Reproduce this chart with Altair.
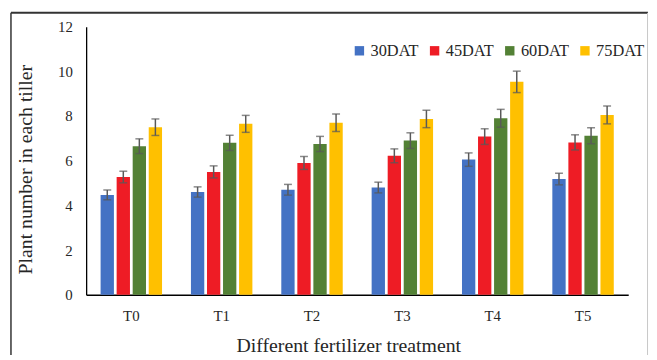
import altair as alt
import pandas as pd

treatments = ["T0", "T1", "T2", "T3", "T4", "T5"]
series = ["30DAT", "45DAT", "60DAT", "75DAT"]
colors = ["#4472C4", "#EE1C25", "#538135", "#FFC000"]

v30 = [4.47, 4.60, 4.70, 4.80, 6.05, 5.18]
v45 = [5.27, 5.50, 5.90, 6.22, 7.08, 6.82]
v60 = [6.65, 6.80, 6.75, 6.90, 7.90, 7.12]
v75 = [7.50, 7.65, 7.70, 7.87, 9.53, 8.05]

e30 = [0.22, 0.23, 0.24, 0.24, 0.30, 0.26]
e45 = [0.26, 0.27, 0.29, 0.31, 0.35, 0.34]
e60 = [0.33, 0.34, 0.34, 0.35, 0.40, 0.36]
e75 = [0.37, 0.38, 0.39, 0.39, 0.48, 0.40]

rows = []
for s, vals, errs in zip(series, [v30, v45, v60, v75], [e30, e45, e60, e75]):
    for t, v, e in zip(treatments, vals, errs):
        rows.append({"treatment": t, "series": s, "value": v, "lo": v - e, "hi": v + e})
df = pd.DataFrame(rows)

FONT = "Liberation Serif"
TXT = "#262626"

x_enc = alt.X(
    "treatment:N",
    sort=treatments,
    scale=alt.Scale(paddingInner=0.32, paddingOuter=0.16),
    axis=alt.Axis(
        title="Different fertilizer treatment",
        labelAngle=0,
        ticks=False,
        domainColor="#000000",
        domainWidth=1.5,
        labelFont=FONT,
        labelFontSize=15,
        labelPadding=14,
        titleFont=FONT,
        titleFontSize=20,
        titleFontWeight="normal",
        titleX=265,
        titleY=57,
        titleBaseline="alphabetic",
    ),
)
xo = alt.XOffset("series:N", sort=series, scale=alt.Scale(paddingInner=0.17, paddingOuter=0))
y_scale = alt.Scale(domain=[0, 12])

bars = alt.Chart(df).mark_bar().encode(
    x=x_enc,
    xOffset=xo,
    y=alt.Y(
        "value:Q",
        scale=y_scale,
        axis=alt.Axis(
            values=[0, 2, 4, 6, 8, 10, 12],
            title="Plant number in each tiller",
            grid=False,
            ticks=False,
            domainColor="#000000",
            domainWidth=1.3,
            labelFont=FONT,
            labelFontSize=15,
            labelPadding=14,
            titleFont=FONT,
            titleFontSize=20,
            titleFontWeight="normal",
            titlePadding=22,
            titleY=144,
        ),
    ),
    color=alt.Color(
        "series:N",
        sort=series,
        scale=alt.Scale(domain=series, range=colors),
        legend=alt.Legend(
            title=None,
            orient="none",
            legendX=268,
            legendY=16,
            direction="horizontal",
            symbolType="square",
            symbolSize=90,
            symbolStrokeWidth=0,
            labelFontSize=16.5,
            labelOffset=3,
            columnPadding=7,
            labelFont=FONT,
            labelColor=TXT,
        ),
    ),
)

err = alt.Chart(df).mark_rule(color="#595959", strokeWidth=1.5).encode(
    x=alt.X("treatment:N", sort=treatments), xOffset=xo, y="lo:Q", y2="hi:Q"
)
cap_lo = alt.Chart(df).mark_tick(color="#595959", size=8, thickness=1.5, orient="horizontal").encode(
    x=alt.X("treatment:N", sort=treatments), xOffset=xo, y="lo:Q"
)
cap_hi = alt.Chart(df).mark_tick(color="#595959", size=8, thickness=1.5, orient="horizontal").encode(
    x=alt.X("treatment:N", sort=treatments), xOffset=xo, y="hi:Q"
)

# decorative frame around the figure
frame_df = pd.DataFrame({"k": [0]})
top_line = alt.Chart(frame_df).mark_rule(color="#333333", strokeWidth=2).encode(
    x=alt.value(-76), x2=alt.value(568), y=alt.value(-14)
)
left_line = alt.Chart(frame_df).mark_rule(color="#333333", strokeWidth=1.5).encode(
    x=alt.value(-76), y=alt.value(-14), y2=alt.value(340)
)
right_line = alt.Chart(frame_df).mark_rule(color="#c8c8c8", strokeWidth=1).encode(
    x=alt.value(567.5), y=alt.value(-14), y2=alt.value(340)
)

chart = (
    alt.layer(bars, err, cap_lo, cap_hi, top_line, left_line, right_line)
    .properties(
        width=548,
        height=271,
        autosize=alt.AutoSizeParams(type="none"),
        padding={"left": 79, "top": 17, "right": 21, "bottom": 59},
        background="#ffffff",
    )
    .configure_view(stroke=None)
    .configure_axis(labelFont=FONT, titleFont=FONT, labelColor=TXT, titleColor=TXT)
    .configure_legend(labelFont=FONT)
)

chart.save("out.html", embed_options={"renderer": "svg", "actions": False})
